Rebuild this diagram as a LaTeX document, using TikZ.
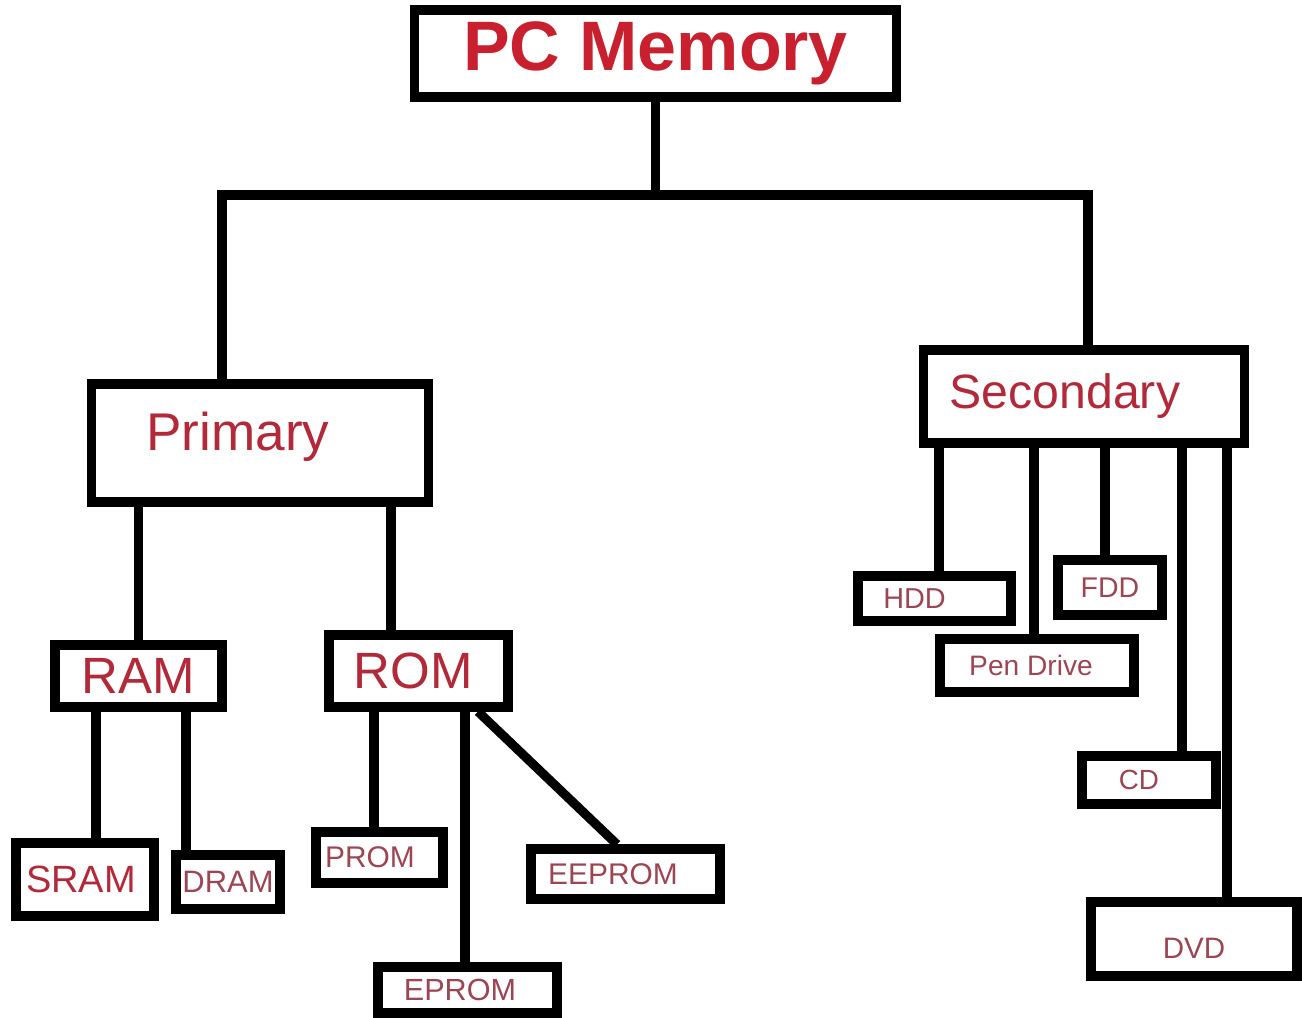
\documentclass[tikz,border=0pt]{standalone}
\usepackage{fontspec}
\setmainfont{Liberation Sans}
\usepackage{tikz}
\usetikzlibrary{calc}
\definecolor{headred}{RGB}{200,32,46}
\definecolor{typered}{RGB}{178,42,58}
\definecolor{leafred}{RGB}{156,70,84}
\tikzset{
  membox/.style={draw=black,line width=2.6pt,inner sep=0pt,align=center},
  headbox/.style={membox,text=headred,font=\fontsize{19.9}{22}\selectfont\bfseries},
  typebox/.style={membox,text=typered,font=\fontsize{#1}{#1}\selectfont},
  leafbox/.style={membox,text=leafred,font=\fontsize{#1}{#1}\selectfont},
  link/.style={draw=black,line width=2.6pt}
}

\begin{document}
\begin{tikzpicture}[x=0.01cm,y=-0.01cm]
  \fill[white] (0,0) rectangle (1302,1018);
  % top level
  \node[headbox,minimum width=4.81cm,minimum height=0.87cm] (pc) at (655.5,53.5) {PC Memory};
  \node[typebox=15.1,minimum width=3.36cm,minimum height=1.18cm,text depth=0.24cm] (primary) at (260,443) {Primary\hspace*{0.44cm}};
  \node[typebox=13.7,minimum width=3.20cm,minimum height=0.93cm] (secondary) at (1084,396.5) {Secondary\hspace*{0.38cm}};
  % primary memory
  \node[typebox=14.5,minimum width=1.67cm,minimum height=0.62cm] (ram) at (138.5,676) {RAM};
  \node[typebox=14.5,minimum width=1.79cm,minimum height=0.72cm] (rom) at (418.5,671) {ROM\hspace*{0.11cm}};
  \node[typebox=10.8,minimum width=1.38cm,minimum height=0.73cm] (sram) at (85,879.5) {SRAM\hspace*{0.08cm}};
  \node[leafbox=8.8,minimum width=1.04cm,minimum height=0.54cm] (dram) at (228,882) {DRAM};
  \node[leafbox=8.5,minimum width=1.27cm,minimum height=0.51cm] (prom) at (379.5,857.5) {PROM\hspace*{0.19cm}};
  \node[leafbox=8.7,minimum width=1.79cm,minimum height=0.46cm] (eprom) at (467.5,990) {EPROM\hspace*{0.15cm}};
  \node[leafbox=8.5,minimum width=1.89cm,minimum height=0.50cm] (eeprom) at (625.5,874) {EEPROM\hspace*{0.25cm}};
  % secondary memory
  \node[leafbox=8.2,minimum width=1.53cm,minimum height=0.45cm] (hdd) at (934.5,598.5) {HDD\hspace*{0.40cm}};
  \node[leafbox=8,minimum width=1.94cm,minimum height=0.53cm] (pen) at (1037,665.5) {Pen Drive\hspace*{0.12cm}};
  \node[leafbox=8.1,minimum width=1.04cm,minimum height=0.55cm] (fdd) at (1110,587.5) {FDD};
  \node[leafbox=7.9,minimum width=1.34cm,minimum height=0.48cm] (cd) at (1149,780) {CD\hspace*{0.20cm}};
  \node[leafbox=8.4,minimum width=2.06cm,minimum height=0.74cm,text height=0.38cm] (dvd) at (1194,939) {DVD};
  % trunk and bar
  \coordinate (barL) at (222,195);
  \coordinate (barR) at (1088,195);
  \draw[link] (pc.south) -- (pc.south |- barL);
  \draw[link] (primary.north -| barL) -- (barL) -- (barR) -- (secondary.north -| barR);
  % primary links
  \draw[link] (primary.south -| ram.north) -- (ram.north);
  \draw[link] (primary.south -| 391,0) -- (rom.north -| 391,0);
  \draw[link] (ram.south -| 96,0) -- (sram.north -| 96,0);
  \draw[link] (ram.south -| 186,0) -- (dram.north -| 186,0);
  \draw[link] (rom.south -| 374,0) -- (prom.north -| 374,0);
  \draw[link] (rom.south -| 465,0) -- (eprom.north -| 465,0);
  \draw[link] (rom.south -| 478,0) -- (eeprom.north -| 617,0);
  % secondary links
  \draw[link] (secondary.south -| 939,0) -- (hdd.north -| 939,0);
  \draw[link] (secondary.south -| 1034,0) -- (pen.north -| 1034,0);
  \draw[link] (secondary.south -| 1105,0) -- (fdd.north -| 1105,0);
  \draw[link] (secondary.south -| 1182,0) -- (cd.north -| 1182,0);
  \draw[link] (secondary.south -| 1227,0) -- (dvd.north -| 1227,0);
\end{tikzpicture}
\end{document}
